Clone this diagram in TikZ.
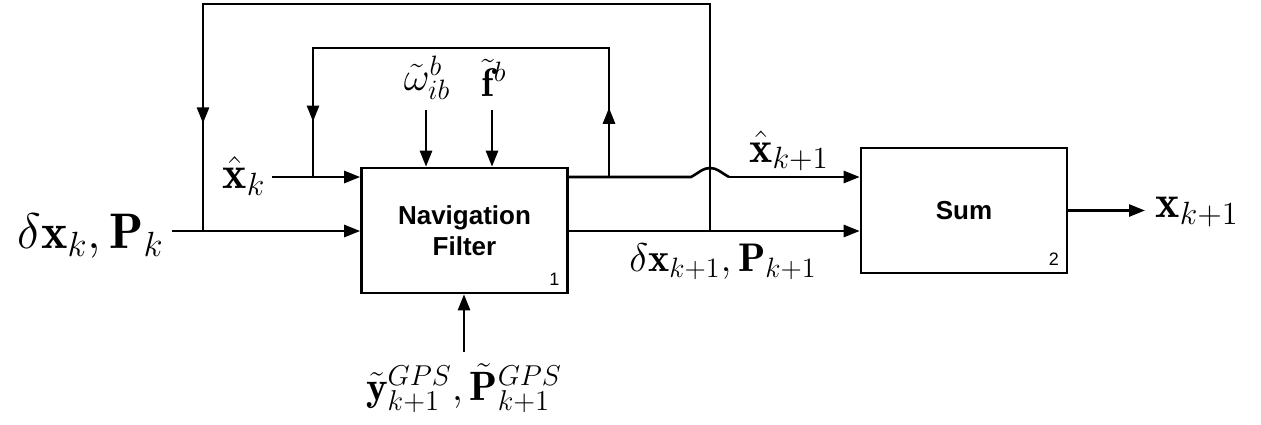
\RequirePackage{fix-cm}
\documentclass[tikz,border=0pt]{standalone}
\usepackage{fontspec}
\newfontfamily\blockfont{Liberation Sans}
\usetikzlibrary{arrows.meta, positioning, decorations.markings}

\begin{document}
\begin{tikzpicture}[
  x=0.5pt, y=-0.5pt,
  >={Triangle[length=8pt, width=6pt]},
  block/.style={draw, line width=1.3pt, minimum width=103pt, minimum height=62.5pt, inner sep=0pt, align=center, font=\blockfont\bfseries\fontsize{13}{15.5}\selectfont},
  wire/.style={line width=1.3pt},
  arr/.style={wire, ->},
  tipat/.style={postaction={decorate, decoration={markings, mark=at position #1 with {\arrow{>}}}}},
  lbl/.style={inner sep=0pt, font=\fontsize{#1}{#1}\selectfont},
  num/.style={inner sep=0pt, font=\blockfont\fontsize{9}{10}\selectfont}
]
  \useasboundingbox (0,0) rectangle (1261,424);

  % blocks
  \node[block] (nf) at (464.5,230.5) {Navigation\\Filter};
  \node[block] (sum) at (964,210.5) {Sum};
  \node[num, anchor=south east] (nfnum) at ([xshift=-4.5pt, yshift=4.3pt]nf.south east) {1};
  \node[num, anchor=south east] (sumnum) at ([xshift=-4.5pt, yshift=4.3pt]sum.south east) {2};

  % branch points and free ends
  \coordinate (xk) at (272,177);
  \coordinate (dk) at (172,231);
  \coordinate (ol) at (203,231);
  \coordinate (olt) at (203,4);
  \coordinate (il) at (313,177);
  \coordinate (ilt) at (313,48);
  \coordinate (ir) at (609,177);
  \coordinate (irt) at (609,48);
  \coordinate (or) at (710,231);
  \coordinate (ort) at (710,4);
  \coordinate (hopa) at (691,177);
  \coordinate (hopm) at (710,168);
  \coordinate (hopb) at (729,177);
  \coordinate (wb) at (426,110);
  \coordinate (fb) at (492,110);
  \coordinate (gps) at (464,352);
  \coordinate (out) at (1145,210.5);

  % inputs
  \draw[arr] (xk) -- (xk -| nf.west);
  \draw[arr] (dk) -- (dk -| nf.west);
  \draw[arr] (wb) -- (wb |- nf.north);
  \draw[arr] (fb) -- (fb |- nf.north);
  \draw[arr] (gps) -- (gps |- nf.south);

  % outputs
  \draw[wire] (nf.east |- ir) -- (hopa) .. controls (700,172) and (703,168) .. (hopm)
    .. controls (717,168) and (720,172) .. (hopb);
  \draw[arr] (hopb) -- (hopb -| sum.west);
  \draw[arr] (nf.east |- or) -- (or -| sum.west);
  \draw[arr] (sum.east) -- (out);

  % feedback loops
  \draw[wire, tipat=0.125, tipat=0.9] (ir) -- (irt) -- (ilt) -- (il);
  \draw[wire, tipat=0.888] (or) -- (ort) -- (olt) -- (ol);

  % labels
  \node[lbl=25, anchor=east] (dklbl) at (164,236) {$\delta\mathbf{x}_k, \mathbf{P}_k$};
  \node[lbl=23] (xklbl) at (244,176) {$\hat{\mathbf{x}}_k$};
  \node[lbl=20] (wlbl) at (427,78) {$\tilde{\omega}_{ib}^{b}$};
  \node[lbl=20] (flbl) at (494,78) {$\tilde{\mathbf{f}}^{b}$};
  \node[lbl=20.5] (gpslbl) at (464,388) {$\tilde{\mathbf{y}}_{k+1}^{GPS}, \tilde{\mathbf{P}}_{k+1}^{GPS}$};
  \node[lbl=22] (xk1lbl) at (789,151) {$\hat{\mathbf{x}}_{k+1}$};
  \node[lbl=20] (dk1lbl) at (723,262) {$\delta\mathbf{x}_{k+1}, \mathbf{P}_{k+1}$};
  \node[lbl=23] (outlbl) at (1197,212) {$\mathbf{x}_{k+1}$};
\end{tikzpicture}
\end{document}
